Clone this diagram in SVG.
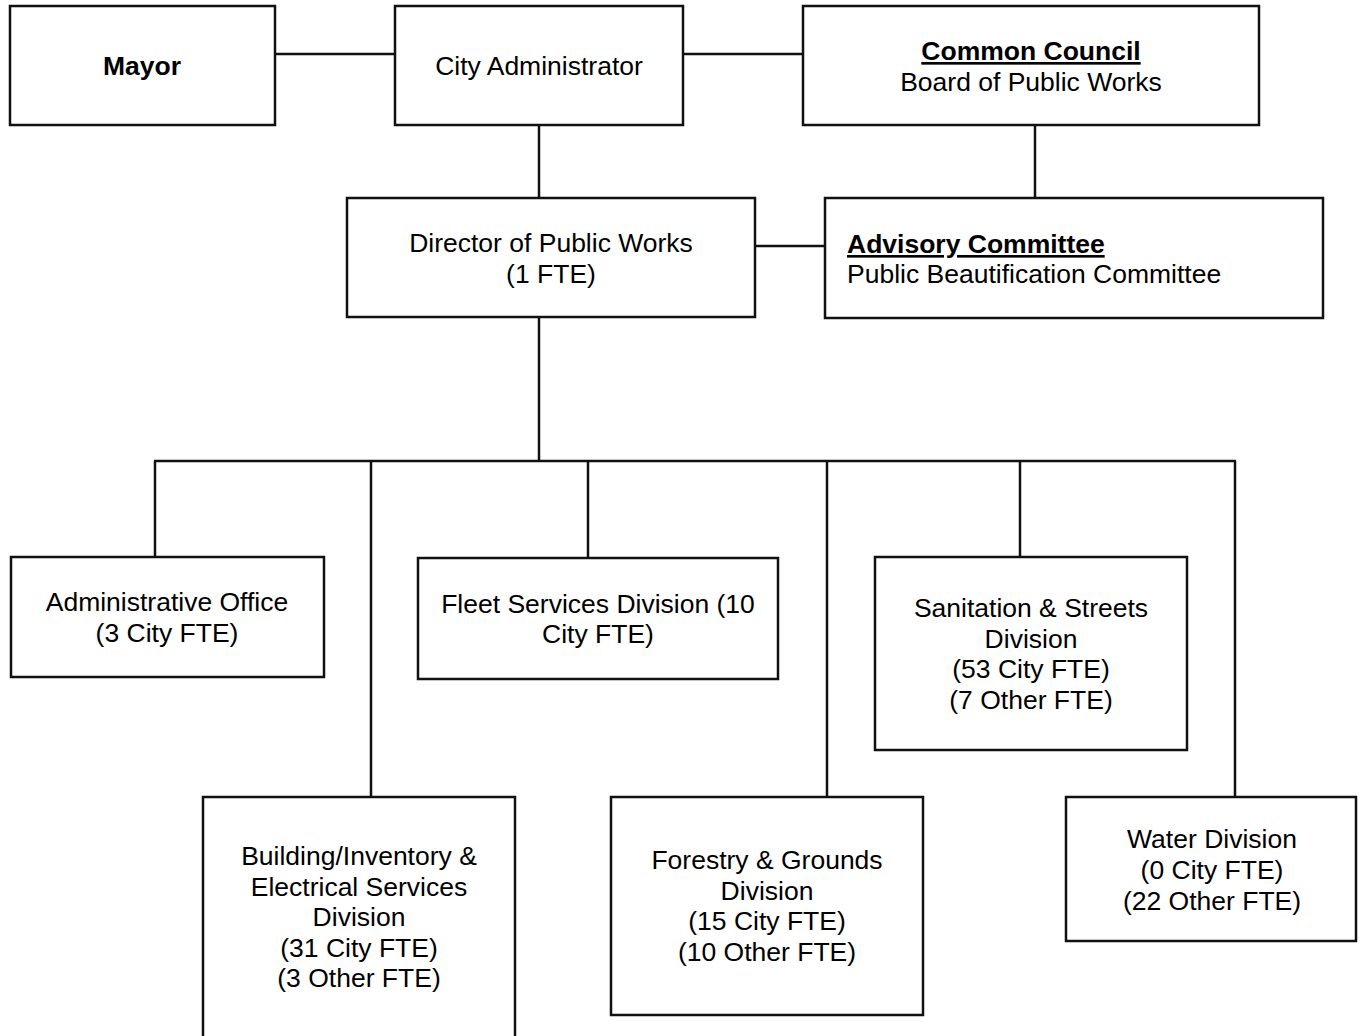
<svg xmlns="http://www.w3.org/2000/svg" width="1361" height="1036" viewBox="0 0 1361 1036">
  <style>
    .box { fill: #fff; stroke: #111; stroke-width: 2.5; }
    .wire { fill: none; stroke: #111; stroke-width: 2.5; }
    text { font-family: "Liberation Sans", Arial, sans-serif; font-size: 26.5px; fill: #000; }
    .c { text-anchor: middle; }
    .b { font-weight: bold; }
    .u { text-decoration: underline; }
  </style>
  <rect width="1361" height="1036" fill="#fff"/>

  <!-- reporting lines -->
  <g id="connectors">
    <line class="wire" x1="275" y1="54" x2="395" y2="54"/>
    <line class="wire" x1="683" y1="54" x2="803" y2="54"/>
    <line class="wire" x1="539" y1="125" x2="539" y2="198"/>
    <line class="wire" x1="1035" y1="125" x2="1035" y2="198"/>
    <line class="wire" x1="755" y1="246" x2="825" y2="246"/>
    <line class="wire" x1="539" y1="317" x2="539" y2="461"/>
    <line class="wire" x1="154" y1="461" x2="1236" y2="461"/>
    <line class="wire" x1="155" y1="461" x2="155" y2="557"/>
    <line class="wire" x1="371" y1="461" x2="371" y2="797"/>
    <line class="wire" x1="588" y1="461" x2="588" y2="558"/>
    <line class="wire" x1="827" y1="461" x2="827" y2="797"/>
    <line class="wire" x1="1020" y1="461" x2="1020" y2="557"/>
    <line class="wire" x1="1235" y1="461" x2="1235" y2="797"/>
  </g>

  <g id="mayor">
    <rect class="box" x="10" y="6" width="265" height="119"/>
    <text class="c b" x="142" y="75">Mayor</text>
  </g>

  <g id="city-administrator">
    <rect class="box" x="395" y="6" width="288" height="119"/>
    <text class="c" x="539" y="75">City Administrator</text>
  </g>

  <g id="common-council">
    <rect class="box" x="803" y="6" width="456" height="119"/>
    <text class="c b u" x="1031" y="60">Common Council</text>
    <text class="c" x="1031" y="91">Board of Public Works</text>
  </g>

  <g id="director">
    <rect class="box" x="347" y="198" width="408" height="119"/>
    <text class="c" x="551" y="252">Director of Public Works</text>
    <text class="c" x="551" y="283">(1 FTE)</text>
  </g>

  <g id="advisory-committee">
    <rect class="box" x="825" y="198" width="498" height="120"/>
    <text class="b u" x="847" y="253">Advisory Committee</text>
    <text x="847" y="283">Public Beautification Committee</text>
  </g>

  <g id="administrative-office">
    <rect class="box" x="11" y="557" width="313" height="120"/>
    <text class="c" x="167" y="611">Administrative Office</text>
    <text class="c" x="167" y="642">(3 City FTE)</text>
  </g>

  <g id="fleet-services">
    <rect class="box" x="418" y="558" width="360" height="121"/>
    <text class="c" x="598" y="613">Fleet Services Division (10</text>
    <text class="c" x="598" y="643">City FTE)</text>
  </g>

  <g id="sanitation-streets">
    <rect class="box" x="875" y="557" width="312" height="193"/>
    <text class="c" x="1031" y="617">Sanitation &amp; Streets</text>
    <text class="c" x="1031" y="648">Division</text>
    <text class="c" x="1031" y="678">(53 City FTE)</text>
    <text class="c" x="1031" y="709">(7 Other FTE)</text>
  </g>

  <g id="building-electrical">
    <rect class="box" x="203" y="797" width="312" height="250"/>
    <text class="c" x="359" y="865">Building/Inventory &amp;</text>
    <text class="c" x="359" y="896">Electrical Services</text>
    <text class="c" x="359" y="926">Division</text>
    <text class="c" x="359" y="957">(31 City FTE)</text>
    <text class="c" x="359" y="987">(3 Other FTE)</text>
  </g>

  <g id="forestry-grounds">
    <rect class="box" x="611" y="797" width="312" height="218"/>
    <text class="c" x="767" y="869">Forestry &amp; Grounds</text>
    <text class="c" x="767" y="900">Division</text>
    <text class="c" x="767" y="930">(15 City FTE)</text>
    <text class="c" x="767" y="961">(10 Other FTE)</text>
  </g>

  <g id="water-division">
    <rect class="box" x="1066" y="797" width="290" height="144"/>
    <text class="c" x="1212" y="848">Water Division</text>
    <text class="c" x="1212" y="879">(0 City FTE)</text>
    <text class="c" x="1212" y="910">(22 Other FTE)</text>
  </g>
</svg>
